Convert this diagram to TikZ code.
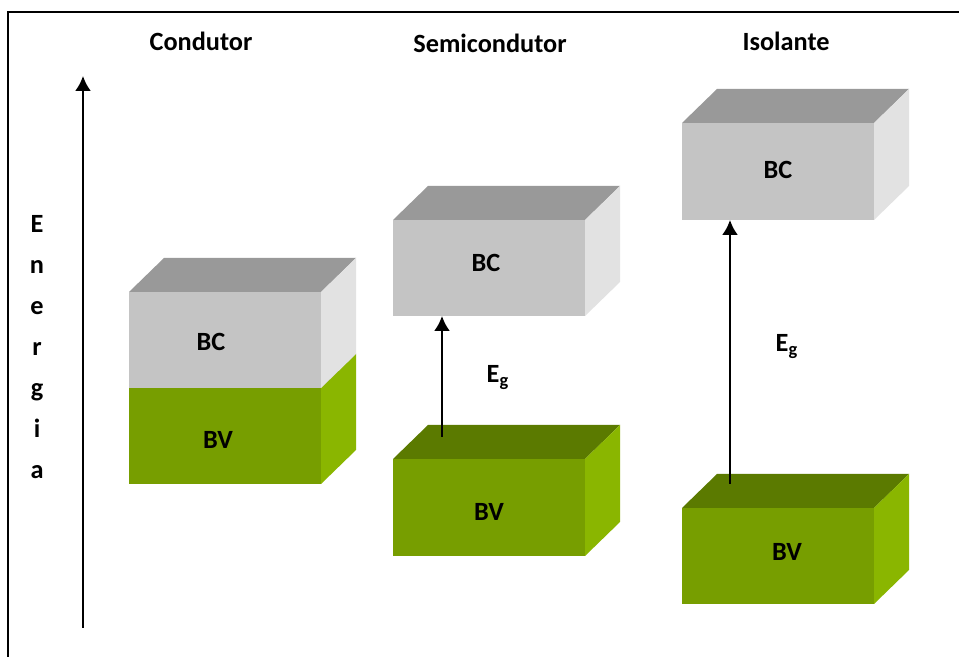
\documentclass[tikz,border=0pt]{standalone}
\usepackage{fontspec}
\setmainfont{Carlito}
\usetikzlibrary{arrows.meta}
\definecolor{bcfront}{HTML}{C4C4C4}
\definecolor{bctop}{HTML}{999999}
\definecolor{bcside}{HTML}{E2E2E2}
\definecolor{bvfront}{HTML}{779E00}
\definecolor{bvtop}{HTML}{5B7A00}
\definecolor{bvside}{HTML}{8AB600}
% left, front top, height, band (bc or bv)
\newcommand{\bandbox}[4]{%
\fill[#4top] (#1,#2)--++(35,34)--++(192,0)--++(-35,-34)--cycle;
\fill[#4side] (#1+192,#2)--++(35,34)--++(0,-#3)--++(-35,-34)--cycle;
\fill[#4front] (#1,#2) rectangle ++(192,-#3);}
\tikzset{gap/.style={->,line width=1.2bp,>={Latex[length=7.5bp,width=8bp]}}}

\begin{document}
\begin{tikzpicture}[x=.5bp,y=.5bp,font=\fontsize{13.2}{15}\selectfont\bfseries]
\useasboundingbox (0,0) rectangle (959,657);
\fill[white] (0,0) rectangle (959,657);
\draw[line width=1bp] (959,645)--(8,645)--(8,0);
% energy axis
\coordinate (ax0) at (83,29);
\coordinate (ax1) at (83,581);
\draw[gap] (ax0)--(ax1);
\foreach \l [count=\i] in {E,n,e,r,g,i,a}{\node[anchor=base,inner sep=0pt] (en\i) at (37,424-\i*41+41) {\l};}
% titles
\node (tcond) at (201,616) {Condutor};
\node (tsemi) at (490,614) {Semicondutor};
\node (tiso) at (786,616) {Isolante};
% condutor
\bandbox{129}{269}{96}{bv}
\bandbox{129}{365}{96}{bc}
\node (bc1) at (211,315) {BC};
\node (bv1) at (218,217) {BV};
% semicondutor
\bandbox{393}{198}{97}{bv}
\bandbox{393}{437}{96}{bc}
\node (bc2) at (486,394) {BC};
\node (bv2) at (489,145) {BV};
\coordinate (g2a) at (442,220);
\coordinate (g2b) at (442,341);
\draw[gap] (g2a)--(g2b);
\node[anchor=base] (eg2) at (498,274) {E\textsubscript{g}};
% isolante
\bandbox{682}{149}{96}{bv}
\bandbox{682}{534}{97}{bc}
\node (bc3) at (778,487) {BC};
\node (bv3) at (787,105) {BV};
\coordinate (g3a) at (730,173);
\coordinate (g3b) at (730,437);
\draw[gap] (g3a)--(g3b);
\node[anchor=base] (eg3) at (787,305) {E\textsubscript{g}};
\end{tikzpicture}
\end{document}
